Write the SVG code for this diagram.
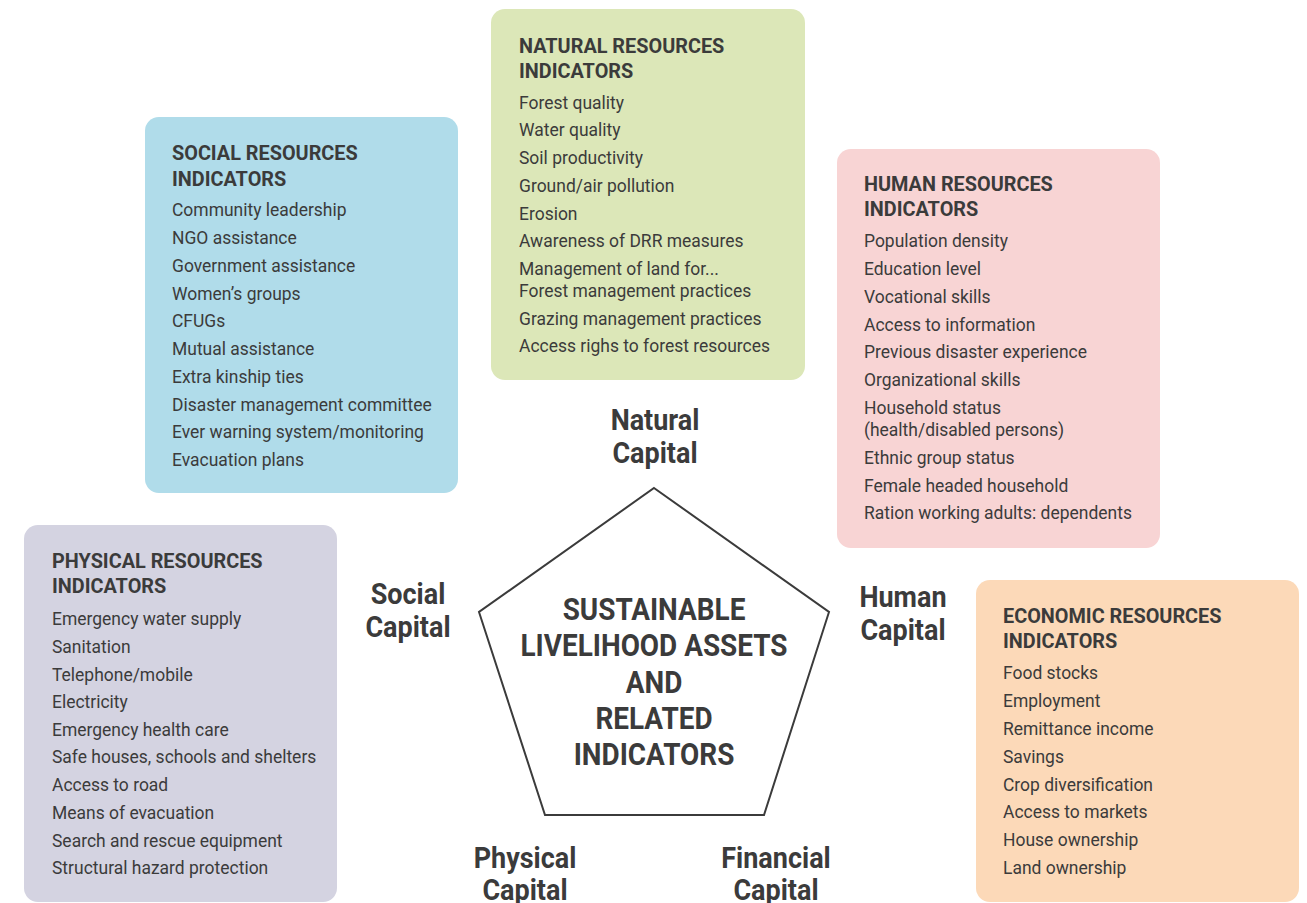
<svg xmlns="http://www.w3.org/2000/svg" width="1307" height="903" viewBox="0 0 1307 903">
<style>
  text { font-family: Roboto, "Liberation Sans", sans-serif; fill: #3b3b3b; }
  .t { font-size: 21px; font-weight: 700; }
  .i { font-size: 18.5px; font-weight: 400; }
  .cap { font-size: 30px; font-weight: 700; text-anchor: middle; }
  .ctr { font-size: 31px; font-weight: 700; text-anchor: middle; }
  .box { stroke: none; }
</style>
<rect width="1307" height="903" fill="#ffffff"/>

<g id="natural">
  <rect class="box" x="491" y="9" width="314" height="371" rx="14" fill="#dce7b8"/>
  <g transform="translate(519 0) scale(0.945 1)">
    <text class="t" x="0" y="53">NATURAL RESOURCES</text>
    <text class="t" x="0" y="78">INDICATORS</text>
    <text class="i" x="0" y="109">Forest quality</text>
    <text class="i" x="0" y="136.5">Water quality</text>
    <text class="i" x="0" y="164">Soil productivity</text>
    <text class="i" x="0" y="192">Ground/air pollution</text>
    <text class="i" x="0" y="220">Erosion</text>
    <text class="i" x="0" y="247.5">Awareness of DRR measures</text>
    <text class="i" x="0" y="275">Management of land for...</text>
    <text class="i" x="0" y="297.5">Forest management practices</text>
    <text class="i" x="0" y="325.5">Grazing management practices</text>
    <text class="i" x="0" y="352.5">Access righs to forest resources</text>
  </g>
</g>

<g id="social">
  <rect class="box" x="145" y="117" width="313" height="376" rx="14" fill="#b0dcea"/>
  <g transform="translate(172 0) scale(0.945 1)">
    <text class="t" x="0" y="160.5">SOCIAL RESOURCES</text>
    <text class="t" x="0" y="186">INDICATORS</text>
    <text class="i" x="0" y="216.5">Community leadership</text>
    <text class="i" x="0" y="244.3">NGO assistance</text>
    <text class="i" x="0" y="272.2">Government assistance</text>
    <text class="i" x="0" y="300">Women’s groups</text>
    <text class="i" x="0" y="327.5">CFUGs</text>
    <text class="i" x="0" y="355">Mutual assistance</text>
    <text class="i" x="0" y="382.7">Extra kinship ties</text>
    <text class="i" x="0" y="410.8">Disaster management committee</text>
    <text class="i" x="0" y="438.3">Ever warning system/monitoring</text>
    <text class="i" x="0" y="466">Evacuation plans</text>
  </g>
</g>

<g id="human">
  <rect class="box" x="837" y="149" width="323" height="399" rx="14" fill="#f8d4d4"/>
  <g transform="translate(864 0) scale(0.945 1)">
    <text class="t" x="0" y="191.5">HUMAN RESOURCES</text>
    <text class="t" x="0" y="216.5">INDICATORS</text>
    <text class="i" x="0" y="247.3">Population density</text>
    <text class="i" x="0" y="275">Education level</text>
    <text class="i" x="0" y="302.7">Vocational skills</text>
    <text class="i" x="0" y="330.7">Access to information</text>
    <text class="i" x="0" y="358.3">Previous disaster experience</text>
    <text class="i" x="0" y="386">Organizational skills</text>
    <text class="i" x="0" y="414">Household status</text>
    <text class="i" x="0" y="436">(health/disabled persons)</text>
    <text class="i" x="0" y="464">Ethnic group status</text>
    <text class="i" x="0" y="491.7">Female headed household</text>
    <text class="i" x="0" y="519.3">Ration working adults: dependents</text>
  </g>
</g>

<g id="physical">
  <rect class="box" x="24" y="525" width="313" height="377" rx="14" fill="#d4d3e1"/>
  <g transform="translate(52 0) scale(0.945 1)">
    <text class="t" x="0" y="568.3">PHYSICAL RESOURCES</text>
    <text class="t" x="0" y="592.7">INDICATORS</text>
    <text class="i" x="0" y="625">Emergency water supply</text>
    <text class="i" x="0" y="652.7">Sanitation</text>
    <text class="i" x="0" y="680.7">Telephone/mobile</text>
    <text class="i" x="0" y="708.3">Electricity</text>
    <text class="i" x="0" y="736">Emergency health care</text>
    <text class="i" x="0" y="763.3">Safe houses, schools and shelters</text>
    <text class="i" x="0" y="791">Access to road</text>
    <text class="i" x="0" y="819">Means of evacuation</text>
    <text class="i" x="0" y="846.7">Search and rescue equipment</text>
    <text class="i" x="0" y="874">Structural hazard protection</text>
  </g>
</g>

<g id="economic">
  <rect class="box" x="976" y="580" width="323" height="322" rx="14" fill="#fcd9b8"/>
  <g transform="translate(1003 0) scale(0.945 1)">
    <text class="t" x="0" y="623.3">ECONOMIC RESOURCES</text>
    <text class="t" x="0" y="648.3">INDICATORS</text>
    <text class="i" x="0" y="679">Food stocks</text>
    <text class="i" x="0" y="707.3">Employment</text>
    <text class="i" x="0" y="735">Remittance income</text>
    <text class="i" x="0" y="762.7">Savings</text>
    <text class="i" x="0" y="790.7">Crop diversification</text>
    <text class="i" x="0" y="818.3">Access to markets</text>
    <text class="i" x="0" y="846">House ownership</text>
    <text class="i" x="0" y="874">Land ownership</text>
  </g>
</g>

<g id="center">
  <polygon points="654,488 829,612 764,815 545,815 479,612" fill="#ffffff" stroke="#3b3b3b" stroke-width="2"/>
  <g transform="translate(654 0) scale(0.9 1)">
    <text class="ctr" x="0" y="620">SUSTAINABLE</text>
    <text class="ctr" x="0" y="656">LIVELIHOOD ASSETS</text>
    <text class="ctr" x="0" y="693">AND</text>
    <text class="ctr" x="0" y="729">RELATED</text>
    <text class="ctr" x="0" y="765">INDICATORS</text>
  </g>
</g>

<g id="capital-natural" transform="translate(655 0) scale(0.9 1)">
  <text class="cap" x="0" y="430">Natural</text>
  <text class="cap" x="0" y="463">Capital</text>
</g>
<g id="capital-social" transform="translate(408 0) scale(0.9 1)">
  <text class="cap" x="0" y="604">Social</text>
  <text class="cap" x="0" y="637">Capital</text>
</g>
<g id="capital-human" transform="translate(903 0) scale(0.9 1)">
  <text class="cap" x="0" y="607">Human</text>
  <text class="cap" x="0" y="640">Capital</text>
</g>
<g id="capital-physical" transform="translate(525 0) scale(0.9 1)">
  <text class="cap" x="0" y="868">Physical</text>
  <text class="cap" x="0" y="900">Capital</text>
</g>
<g id="capital-financial" transform="translate(776 0) scale(0.9 1)">
  <text class="cap" x="0" y="868">Financial</text>
  <text class="cap" x="0" y="900">Capital</text>
</g>

<g id="connectors"></g>
</svg>
